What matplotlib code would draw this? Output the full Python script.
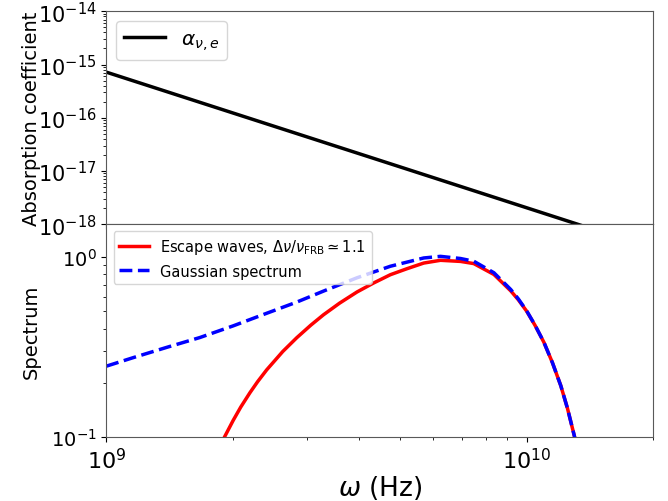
import matplotlib
matplotlib.use('agg')
import matplotlib.pyplot as plt

# absorption coefficient (top panel)
omega_abs = [1.0e9, 2.0e9, 5.0e9, 1.0e10, 2.0e10]
alpha_ne = [7.2e-16, 1.23e-16, 1.19e-17, 2.03e-18, 3.46e-19]

# spectra (bottom panel), omega in units of 1e9 Hz
omega_gauss = [1.0, 1.157, 1.390, 1.669, 2.004, 2.408, 2.838, 3.286, 3.948, 4.739,
               5.689, 6.237, 6.961, 7.482, 8.356, 9.162, 9.550, 10.0, 10.47, 10.99,
               11.51, 12.05, 12.50, 12.97, 13.80]
gauss = [0.2472, 0.2754, 0.3141, 0.3565, 0.4140, 0.4864, 0.5610, 0.6457, 0.7656, 0.8872,
         0.9863, 1.0069, 0.9795, 0.9462, 0.8166, 0.6592, 0.5848, 0.5012, 0.4169, 0.3350,
         0.2588, 0.1928, 0.1442, 0.1021, 0.0550]

omega_esc = [1.884, 1.915, 2.004, 2.089, 2.197, 2.291, 2.408, 2.630, 2.838, 3.066,
             3.286, 3.589, 3.948, 4.315, 4.739, 5.188, 5.689, 6.237, 6.961, 7.482,
             8.356, 9.162, 9.550, 10.0, 10.47, 10.99, 11.51, 12.05, 12.50, 12.97, 13.80]
escape = [0.0933, 0.1009, 0.1236, 0.1466, 0.1762, 0.2028, 0.2360, 0.2985, 0.3556, 0.4178,
          0.4770, 0.5536, 0.6385, 0.7145, 0.7962, 0.8594, 0.9242, 0.9574, 0.9438, 0.9182,
          0.7988, 0.6478, 0.578, 0.499, 0.416, 0.335, 0.2588, 0.1928, 0.1442, 0.1021, 0.0550]

fig = plt.figure(figsize=(6.68, 5.02), dpi=100)
gs = fig.add_gridspec(2, 1, left=0.159, right=0.978, top=0.9755, bottom=0.1275, hspace=0)
ax1 = fig.add_subplot(gs[0])
ax2 = fig.add_subplot(gs[1], sharex=ax1)

ax1.plot(omega_abs, alpha_ne, color='black', lw=2.5, label=r'$\alpha_{\nu,e}$')
ax1.set_xscale('log')
ax1.set_yscale('log')
ax1.set_ylim(1e-18, 1e-14)
ax1.set_ylabel('Absorption coefficient', fontsize=14)
ax1.yaxis.set_label_coords(-0.12, 0.5)
ax1.tick_params(axis='y', labelsize=15)
ax1.tick_params(axis='x', labelbottom=False)
ax1.legend(loc='upper left', fontsize=14.5, handlelength=2.0)

ax2.plot([w * 1e9 for w in omega_esc], escape, color='red', lw=2.5,
         label=r'Escape waves, $\Delta\nu/\nu_{\rm FRB}\simeq 1.1$')
ax2.plot([w * 1e9 for w in omega_gauss], gauss, color='blue', lw=2.5, ls='--',
         label='Gaussian spectrum')
ax2.set_yscale('log')
ax2.set_xlim(1e9, 2e10)
ax2.set_ylim(0.1, 1.52)
ax2.set_ylabel('Spectrum', fontsize=14)
ax2.yaxis.set_label_coords(-0.12, 0.5)
ax2.set_xlabel(r'$\omega$ (Hz)', fontsize=19, labelpad=1)
ax2.tick_params(axis='y', labelsize=14)
ax2.tick_params(axis='x', labelsize=16)
ax2.legend(loc='upper left', fontsize=10.5)

for ax in (ax1, ax2):
    for s in ax.spines.values():
        s.set_color('0.35')

plt.savefig('out.png', dpi=100)
